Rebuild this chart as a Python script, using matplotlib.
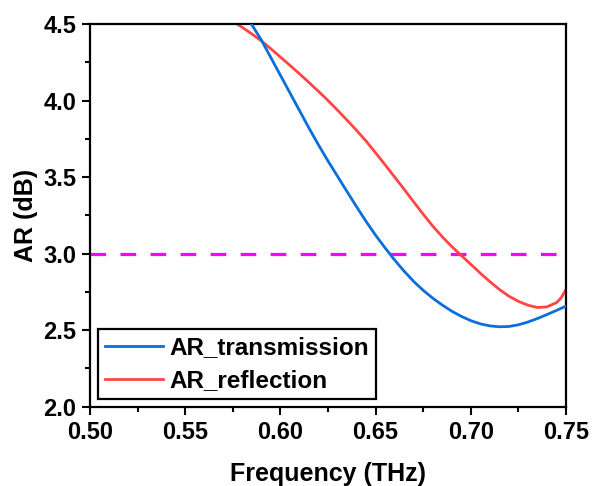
import matplotlib
matplotlib.use("Agg")
import matplotlib.pyplot as plt
from matplotlib.ticker import MultipleLocator, FormatStrFormatter

plt.rcParams['font.family'] = ['Liberation Sans', 'DejaVu Sans']
plt.rcParams['font.weight'] = 'bold'

# Axial ratio of the transmitted wave
freq_trans = [0.580, 0.585, 0.590, 0.595, 0.600, 0.605, 0.610, 0.615, 0.620, 0.625,
              0.630, 0.635, 0.640, 0.645, 0.650, 0.655, 0.660, 0.665, 0.670, 0.675,
              0.680, 0.685, 0.690, 0.695, 0.700, 0.705, 0.710, 0.715, 0.720, 0.725,
              0.730, 0.735, 0.740, 0.745, 0.750]
ar_trans = [4.59, 4.495, 4.395, 4.28, 4.165, 4.05, 3.935, 3.82, 3.71, 3.605,
            3.505, 3.405, 3.306, 3.21, 3.12, 3.037, 2.958, 2.885, 2.818, 2.760,
            2.709, 2.664, 2.624, 2.590, 2.562, 2.541, 2.528, 2.522, 2.524, 2.535,
            2.553, 2.576, 2.602, 2.629, 2.657]

# Axial ratio of the reflected wave
freq_refl = [0.570, 0.575, 0.580, 0.585, 0.590, 0.595, 0.600, 0.605, 0.610, 0.615,
             0.620, 0.625, 0.630, 0.635, 0.640, 0.645, 0.650, 0.655, 0.660, 0.665,
             0.670, 0.675, 0.680, 0.685, 0.690, 0.695, 0.700, 0.705, 0.710, 0.715,
             0.720, 0.725, 0.730, 0.735, 0.740, 0.745, 0.7475, 0.750]
ar_refl = [4.555, 4.518, 4.478, 4.435, 4.39, 4.338, 4.284, 4.23, 4.175, 4.118,
           4.06, 4.0, 3.937, 3.872, 3.805, 3.735, 3.658, 3.58, 3.50, 3.42,
           3.338, 3.257, 3.180, 3.110, 3.046, 2.988, 2.93, 2.872, 2.817, 2.766,
           2.722, 2.688, 2.663, 2.648, 2.652, 2.68, 2.712, 2.766]

threshold = 3.0

fig = plt.figure(figsize=(5.93, 4.86), dpi=100)
ax = fig.add_axes([0.1518, 0.1632, 0.8027, 0.7874])

ax.axhline(threshold, color='#FF00FF', lw=2.3, ls=(0, (4.9, 4.5)), zorder=1)
ax.plot(freq_trans, ar_trans, color='#0A6FDC', lw=2.0, label='AR_transmission', zorder=3)
ax.plot(freq_refl, ar_refl, color='#FF4545', lw=2.0, label='AR_reflection', zorder=2)

ax.set_xlim(0.50, 0.75)
ax.set_ylim(2.0, 4.5)
ax.xaxis.set_major_locator(MultipleLocator(0.05))
ax.xaxis.set_minor_locator(MultipleLocator(0.025))
ax.yaxis.set_major_locator(MultipleLocator(0.5))
ax.yaxis.set_minor_locator(MultipleLocator(0.25))
ax.xaxis.set_major_formatter(FormatStrFormatter('%.2f'))
ax.yaxis.set_major_formatter(FormatStrFormatter('%.1f'))

ax.tick_params(which='both', direction='out', top=False, right=False, width=1.5)
ax.tick_params(which='major', length=6, labelsize=17, pad=4)
ax.tick_params(which='minor', length=3.5)
for s in ax.spines.values():
    s.set_linewidth(1.6)

ax.set_xlabel('Frequency (THz)', fontsize=18, fontweight='bold', labelpad=13)
ax.set_ylabel('AR (dB)', fontsize=18, fontweight='bold', labelpad=4)

leg = ax.legend(loc='lower left', bbox_to_anchor=(0.017, 0.02), fontsize=17.5,
                frameon=True, fancybox=False, edgecolor='black', framealpha=1,
                handlelength=2.4, handletextpad=0.25, labelspacing=0.42,
                borderpad=0.28, borderaxespad=0)
leg.get_frame().set_linewidth(1.6)
for t in leg.get_texts():
    t.set_fontweight('bold')

fig.savefig('out.png', dpi=100)
